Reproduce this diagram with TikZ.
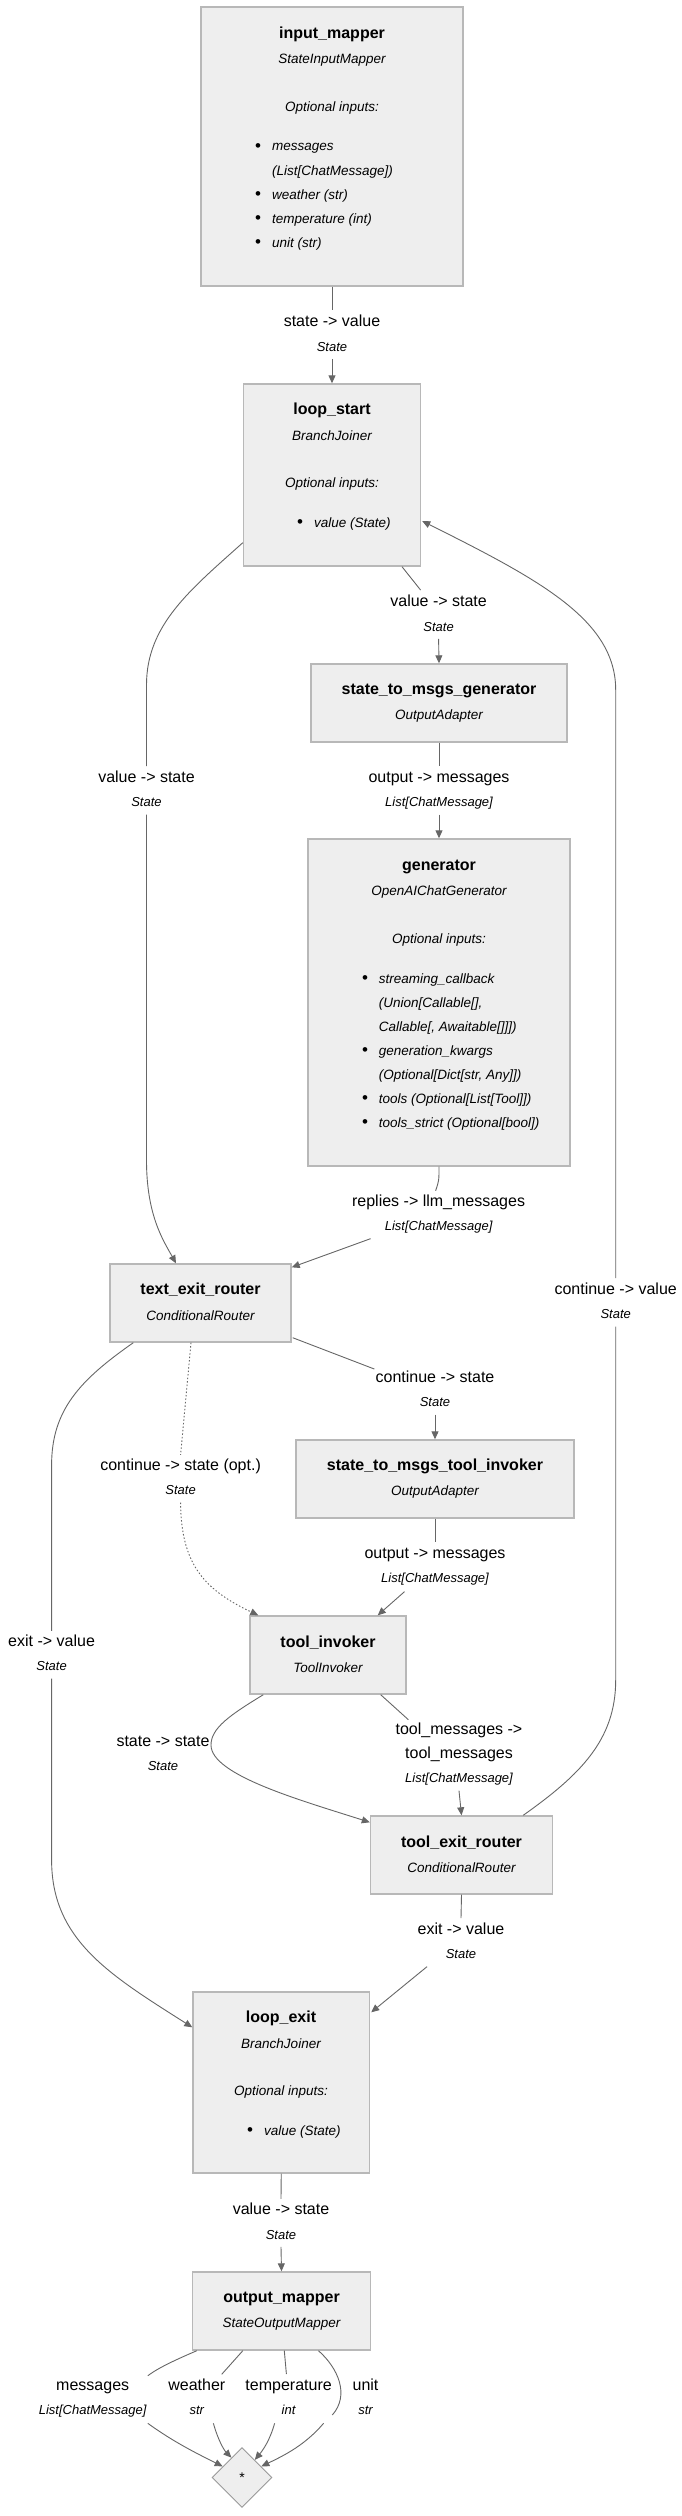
\documentclass[tikz,border=0pt]{standalone}
\usepackage{fontspec}
\setmainfont{Liberation Sans}
\usetikzlibrary{arrows.meta,calc,shapes.geometric}
\definecolor{boxfill}{HTML}{EEEEEE}
\definecolor{boxline}{HTML}{B8B8B8}
\definecolor{edgecol}{HTML}{666666}
\definecolor{dialine}{HTML}{999999}
\newcommand\mkbox[5]{\node[nbox, minimum width=#4pt, minimum height=#5pt] (#1) at (#2,#3) {};}
\begin{document}
\begin{tikzpicture}[x=1pt,y=-1pt,
  nbox/.style={rectangle, draw=boxline, fill=boxfill, line width=1.4pt, inner sep=0pt},
  ttl/.style={font=\bfseries\fontsize{16}{19}\selectfont, inner sep=0pt},
  sub/.style={font=\itshape\fontsize{13.5}{16}\selectfont, inner sep=0pt},
  itm/.style={font=\itshape\fontsize{13.5}{16}\selectfont, inner sep=0pt, anchor=west},
  bul/.style={font=\fontsize{17}{19}\selectfont, inner sep=0pt},
  lab/.style={font=\fontsize{16}{19}\selectfont, text height=12pt, text depth=3.5pt, inner sep=4pt},
  typ/.style={font=\itshape\fontsize{13}{16}\selectfont, text height=9.5pt, text depth=3pt, inner sep=4.5pt},
  edge/.style={draw=edgecol, line width=0.9pt},
  arr/.style={-{Triangle[length=8pt,width=7pt]}},
  dotline/.style={dash pattern=on 1.5pt off 2pt}
]
\useasboundingbox (0,0) rectangle (682,2516);

% ---------- boxes ----------
\mkbox{im}{332}{146.5}{262}{279}
\mkbox{ls}{332}{475}{177}{182}
\mkbox{smg}{439}{703}{256}{78}
\mkbox{gen}{439}{1002.5}{262}{327}
\mkbox{ter}{200.5}{1303}{181}{78}
\mkbox{smt}{435}{1479}{278}{78}
\mkbox{ti}{328}{1655}{156}{78}
\mkbox{tex}{461.5}{1855}{182}{78}
\mkbox{le}{281.25}{2082.5}{176.5}{181}
\mkbox{om}{281.5}{2311}{178}{78}
\node[diamond, draw=dialine, fill=boxfill, line width=0.9pt, minimum width=60pt, minimum height=60pt, inner sep=0pt, font=\fontsize{14}{16}\selectfont] (dia) at (242,2477.5) {*};

% ---------- box texts ----------
\node[ttl] (im-t) at (332,34) {input\_mapper};
\node[sub] (im-s) at (332,60) {StateInputMapper};
\node[sub] (im-o) at (332,108) {Optional inputs:};
\node[bul] (im-d1) at (258,148) {\textbullet};
\node[itm] (im-i1) at (272,148) {messages};
\node[itm] (im-i2) at (272,172) {(List[ChatMessage])};
\node[bul] (im-d3) at (258,196) {\textbullet};
\node[itm] (im-i3) at (272,196) {weather (str)};
\node[bul] (im-d4) at (258,220) {\textbullet};
\node[itm] (im-i4) at (272,220) {temperature (int)};
\node[bul] (im-d5) at (258,244) {\textbullet};
\node[itm] (im-i5) at (272,244) {unit (str)};

\node[ttl] (ls-t) at (332,410) {loop\_start};
\node[sub] (ls-s) at (332,436) {BranchJoiner};
\node[sub] (ls-o) at (332,484) {Optional inputs:};
\node[bul] (ls-d1) at (300,524) {\textbullet};
\node[itm] (ls-i1) at (314,524) {value (State)};

\node[ttl] (smg-t) at (439,690.7) {state\_to\_msgs\_generator};
\node[sub] (smg-s) at (439,715.7) {OutputAdapter};

\node[ttl] (gen-t) at (439,866.7) {generator};
\node[sub] (gen-s) at (439,891.7) {OpenAIChatGenerator};
\node[sub] (gen-o) at (439,939.7) {Optional inputs:};
\node[bul] (gen-d1) at (365,979.7) {\textbullet};
\node[itm] (gen-i1) at (378.7,979.7) {streaming\_callback};
\node[itm] (gen-i2) at (378.7,1003.7) {(Union[Callable[],};
\node[itm] (gen-i3) at (378.7,1027.7) {Callable[, Awaitable[]]])};
\node[bul] (gen-d4) at (365,1051.7) {\textbullet};
\node[itm] (gen-i4) at (378.7,1051.7) {generation\_kwargs};
\node[itm] (gen-i5) at (378.7,1075.7) {(Optional[Dict[str, Any]])};
\node[bul] (gen-d6) at (365,1099.7) {\textbullet};
\node[itm] (gen-i6) at (378.7,1099.7) {tools (Optional[List[Tool]])};
\node[bul] (gen-d7) at (365,1123.7) {\textbullet};
\node[itm] (gen-i7) at (378.7,1123.7) {tools\_strict (Optional[bool])};

\node[ttl] (ter-t) at (200.5,1290) {text\_exit\_router};
\node[sub] (ter-s) at (200.5,1315.7) {ConditionalRouter};

\node[ttl] (smt-t) at (435,1466.7) {state\_to\_msgs\_tool\_invoker};
\node[sub] (smt-s) at (435,1491.7) {OutputAdapter};

\node[ttl] (ti-t) at (328,1642.7) {tool\_invoker};
\node[sub] (ti-s) at (328,1667.7) {ToolInvoker};

\node[ttl] (tex-t) at (461.5,1842.7) {tool\_exit\_router};
\node[sub] (tex-s) at (461.5,1867.7) {ConditionalRouter};

\node[ttl] (le-t) at (281,2018.7) {loop\_exit};
\node[sub] (le-s) at (281,2043.7) {BranchJoiner};
\node[sub] (le-o) at (281,2091.7) {Optional inputs:};
\node[bul] (le-d1) at (250,2131.7) {\textbullet};
\node[itm] (le-i1) at (264,2131.7) {value (State)};

\node[ttl] (om-t) at (281.5,2298.7) {output\_mapper};
\node[sub] (om-s) at (281.5,2323.7) {StateOutputMapper};

% ---------- edge labels ----------
\node[lab] (e1a) at (332,322) {state -> value};
\node[typ] (e1b) at (332,348) {State};
\node[lab] (e2a) at (438.6,602) {value -> state};
\node[typ] (e2b) at (438.6,628) {State};
\node[lab] (e3a) at (439,778) {output -> messages};
\node[typ] (e3b) at (439,803.7) {List[ChatMessage]};
\node[lab] (e4a) at (438.6,1202.7) {replies -> llm\_messages};
\node[typ] (e4b) at (438.6,1227.7) {List[ChatMessage]};
\node[lab] (e5a) at (146.5,778) {value -> state};
\node[typ] (e5b) at (146.5,803.7) {State};
\node[lab] (e6a) at (435,1378) {continue -> state};
\node[typ] (e6b) at (435,1403.7) {State};
\node[lab] (e7a) at (435,1554.3) {output -> messages};
\node[typ] (e7b) at (435,1579.7) {List[ChatMessage]};
\node[lab] (e8a) at (180.6,1466.7) {continue -> state (opt.)};
\node[typ] (e8b) at (180.6,1491.7) {State};
\node[lab] (e9a) at (51.6,1642.7) {exit -> value};
\node[typ] (e9b) at (51.6,1667.7) {State};
\node[lab] (e10a) at (615.7,1290) {continue -> value};
\node[typ] (e10b) at (615.7,1315.7) {State};
\node[lab] (e11a) at (163,1742.7) {state -> state};
\node[typ] (e11b) at (163,1767.7) {State};
\node[lab] (e12a) at (459,1730.7) {tool\_messages ->};
\node[lab] (e12c) at (459,1754.7) {tool\_messages};
\node[typ] (e12b) at (459,1779.7) {List[ChatMessage]};
\node[lab] (e13a) at (461,1930) {exit -> value};
\node[typ] (e13b) at (461,1955.7) {State};
\node[lab] (e14a) at (281,2210.7) {value -> state};
\node[typ] (e14b) at (281,2236) {State};
\node[lab] (o1a) at (92.7,2386.7) {messages};
\node[typ] (o1b) at (92.7,2411.7) {List[ChatMessage]};
\node[lab] (o2a) at (196.8,2386.7) {weather};
\node[typ] (o2b) at (196.8,2411.7) {str};
\node[lab] (o3a) at (288.6,2386.7) {temperature};
\node[typ] (o3b) at (288.6,2411.7) {int};
\node[lab] (o4a) at (365.5,2386.7) {unit};
\node[typ] (o4b) at (365.5,2411.7) {str};

\coordinate (c1t) at (147.8,2375.7);
\coordinate (c1b) at (147.8,2423.3);
\coordinate (c2t) at (221.7,2374.3);
\coordinate (c2b) at (213.4,2423.3);
\coordinate (c3t) at (286.4,2374);
\coordinate (c3b) at (274.6,2423.3);
\coordinate (c4t) at (332.3,2415);
\coordinate (c4b) at (323.6,2423.3);

% ---------- edges ----------
\draw[edge] (im.south) -- (e1a.north);
\draw[edge,arr] (e1b.south) -- (ls.north);

\draw[edge] ($(ls.south)+(70,0)$) -- ($(e2a.north)+(-18,0)$);
\draw[edge,arr] (e2b.south) -- (smg.north);

\draw[edge] (smg.south) -- (e3a.north);
\draw[edge,arr] (e3b.south) -- (gen.north);

\draw[edge] (gen.south) .. controls ($(gen.south)+(0,14)$) .. ($(e4a.north)+(-3,0)$);
\draw[edge,arr] ($(e4b.south)+(-68,0)$) -- ($(ter.north east)+(0,4)$);

\draw[edge] ($(ls.south west)+(0,-24)$) .. controls (190,590) and (146.5,625) .. (146.5,685) -- (e5a.north);
\draw[edge,arr] (e5b.south) -- (146.5,1160) .. controls (146.5,1215) and (163,1240) .. ($(ter.north)+(-24.5,0)$);

\draw[edge] ($(ter.south east)+(1,-5)$) -- ($(e6a.north west)+(3,3)$);
\draw[edge,arr] (e6b.south) -- (smt.north);

\draw[edge] (smt.south) -- (e7a.north);
\draw[edge,arr] ($(e7b.south)+(-30.5,1)$) -- ($(ti.north east)+(-29,0)$);

\draw[edge,dotline] ($(ter.south)+(-9.5,0)$) -- (e8a.north);
\draw[edge,dotline,arr] (e8b.south) .. controls (181,1565) and (205,1590) .. ($(ti.north west)+(9,0)$);

\draw[edge] ($(ter.south west)+(24,0)$) .. controls (80,1380) and (51.6,1410) .. (51.6,1465) -- (e9a.north);
\draw[edge,arr] (e9b.south) -- (51.6,1860) .. controls (51.6,1940) and (110,1975) .. ($(le.north west)+(0,36)$);

\draw[edge] ($(tex.north east)+(-30,0)$) .. controls (580,1775) and (615.7,1740) .. (615.7,1680) -- (e10b.south);
\draw[edge,arr] (e10a.north) -- (615.7,690) .. controls (615.7,620) and (540,580) .. ($(ls.east)+(1,46)$);

\draw[edge,arr] ($(ti.south west)+(14,0)$) .. controls (230,1715) and (211,1728) .. (211,1745) .. controls (211,1775) and (300,1800) .. ($(tex.north west)+(0,7)$);

\draw[edge] ($(ti.south east)+(-26,0)$) -- ($(e12a.north west)+(17,1)$);
\draw[edge,arr] (e12b.south) -- (tex.north);

\draw[edge] (tex.south) -- (e13a.north);
\draw[edge,arr] ($(e13b.south)+(-34,0)$) -- ($(le.north east)+(1,21)$);

\draw[edge] (le.south) -- (e14a.north);
\draw[edge,arr] (e14b.south) -- (om.north);

\draw[edge] ($(om.south west)+(5,0)$) .. controls (175,2360) and (158,2368) .. (c1t);
\draw[edge,arr] (c1b) .. controls (175,2443) and (200,2455) .. (dia.150);
\draw[edge] ($(om.south west)+(51,0)$) -- (c2t);
\draw[edge,arr] (c2b) .. controls (218,2440) and (224,2450) .. (dia.118);
\draw[edge] ($(om.south west)+(92.5,0)$) -- (c3t);
\draw[edge,arr] (c3b) .. controls (270,2440) and (263,2450) .. (dia.54);
\draw[edge] ($(om.south west)+(126.7,0)$) .. controls (338,2368) and (350,2395) .. (c4t);
\draw[edge,arr] (c4b) .. controls (305,2445) and (285,2455) .. (dia.30);
\end{tikzpicture}
\end{document}
